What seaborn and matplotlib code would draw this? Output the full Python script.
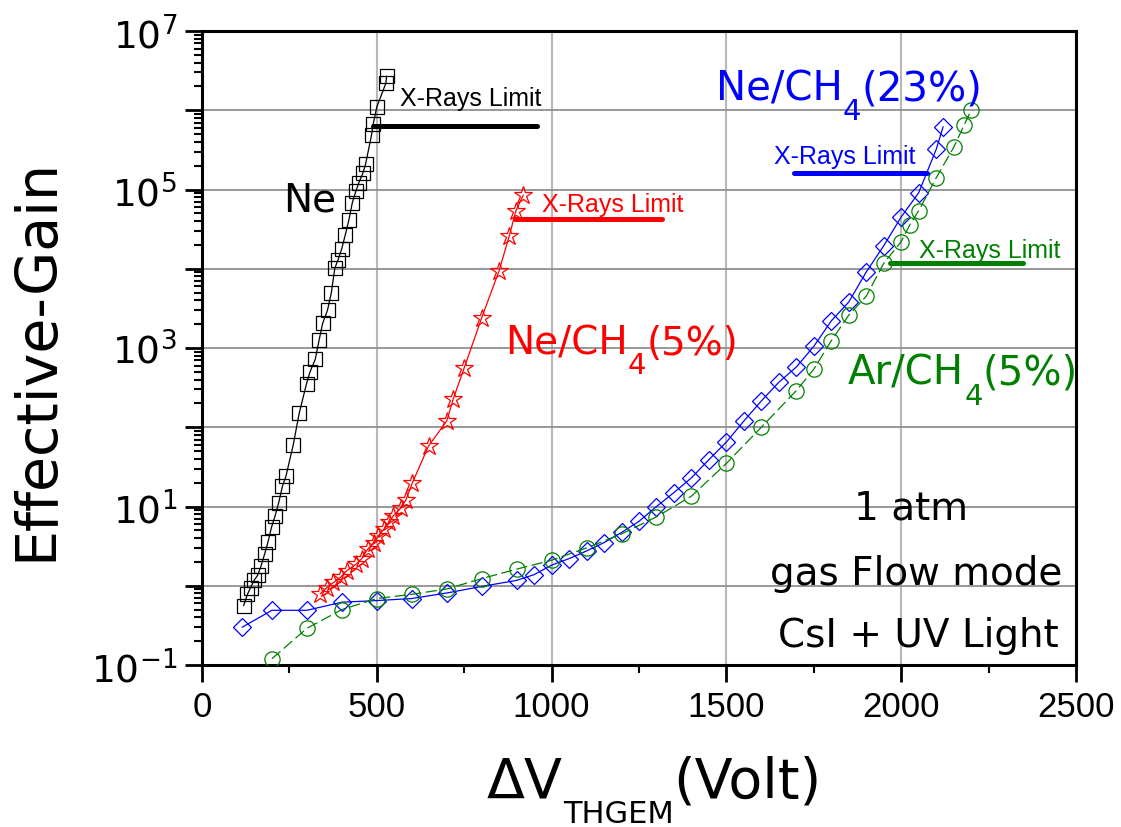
import numpy as np
import pandas as pd
import matplotlib
matplotlib.use("Agg")
import matplotlib.pyplot as plt
import seaborn as sns
from matplotlib.ticker import MultipleLocator, LogLocator, FuncFormatter, NullFormatter

# ---------------- data ----------------
ne_volt = [119, 130, 139, 149, 159, 169, 179, 189, 199, 209, 219, 230, 240, 261, 278, 299,
           309, 324, 335, 345, 359, 370, 380, 389, 400, 410, 420, 430, 440, 448, 460, 468,
           485, 490, 500, 526, 528]
ne_gain = [0.56, 0.78, 0.95, 1.17, 1.35, 1.78, 2.5, 3.6, 5.5, 7.6, 11, 18, 24, 60, 150, 355,
           500, 720, 1260, 2040, 3000, 5000, 1.02e4, 1.29e4, 1.8e4, 2.7e4, 4.1e4, 6.8e4, 9.5e4,
           1.2e5, 1.6e5, 2.1e5, 4.9e5, 6.8e5, 1.1e6, 2.2e6, 2.7e6]

nech4_5_volt = [338, 357, 376, 397, 414, 440, 457, 474, 493, 503, 521, 536, 547, 568, 583,
                602, 648, 700, 719, 750, 800, 850, 879, 898, 919]
nech4_5_gain = [0.79, 0.95, 1.1, 1.29, 1.55, 1.86, 2.2, 2.9, 3.5, 4.2, 5.2, 6.3, 7.6, 9.5, 12,
                20, 58, 120, 230, 560, 2400, 9500, 2.6e4, 5.4e4, 8.5e4]

nech4_23_volt = [115, 200, 300, 400, 500, 600, 700, 800, 900, 950, 1000, 1050, 1100, 1150,
                 1200, 1250, 1300, 1350, 1400, 1450, 1500, 1550, 1600, 1650, 1700, 1750,
                 1800, 1850, 1900, 1950, 2000, 2050, 2100, 2120]
nech4_23_gain = [0.30, 0.49, 0.49, 0.62, 0.65, 0.69, 0.81, 0.98, 1.17, 1.38, 1.82, 2.2, 2.75,
                 3.5, 4.7, 6.5, 10, 15, 23, 39, 65, 120, 215, 370, 575, 1050, 2200, 3800,
                 9100, 1.95e4, 4.5e4, 9.1e4, 3.2e5, 6.2e5]

arch4_5_volt = [200, 300, 400, 500, 600, 700, 800, 900, 1000, 1100, 1200, 1300, 1400, 1500,
                1600, 1700, 1750, 1800, 1850, 1900, 1950, 2000, 2025, 2050, 2100, 2150,
                2180, 2200]
arch4_5_gain = [0.12, 0.29, 0.50, 0.69, 0.78, 0.91, 1.23, 1.62, 2.1, 3.0, 4.5, 7.4, 13.5, 35,
                100, 290, 540, 1230, 2600, 4500, 1.17e4, 2.2e4, 3.6e4, 5.4e4, 1.4e5, 3.4e5,
                6.5e5, 1.0e6]

# X-Rays limit reference lines: gain level and voltage extent
xray_gain = [6.3e5, 4.2e4, 1.6e5, 1.17e4]
xray_v_start = [490, 895, 1692, 1968]
xray_v_end = [958, 1315, 2073, 2347]
xray_colors = ["black", "#ff0000", "#0000ff", "#008000"]

x_ticks = [0, 500, 1000, 1500, 2000, 2500]

# ---------------- style ----------------
sns.set_theme(style="ticks")
plt.rcParams["font.family"] = ["DejaVu Sans"]
plt.rcParams["mathtext.fontset"] = "custom"
plt.rcParams["mathtext.rm"] = "Liberation Sans"
plt.rcParams["mathtext.it"] = "Liberation Sans:italic"
plt.rcParams["mathtext.bf"] = "Liberation Sans:bold"
for k in ["text.color", "axes.labelcolor", "xtick.color", "ytick.color", "axes.edgecolor"]:
    plt.rcParams[k] = "black"

W, H = 1121, 828
fig = plt.figure(figsize=(W / 100, H / 100), dpi=100)
fig.patch.set_facecolor("white")
L, R, T, B = 202, 1076, 32, 666
ax = fig.add_axes([L / W, 1 - B / H, (R - L) / W, (B - T) / H])
ax.set_facecolor("white")
ax.set_yscale("log")

series = [
    (ne_volt, ne_gain, "black", "s", 9.5, None),
    (nech4_5_volt, nech4_5_gain, "#ff0000", "*", 13.5, None),
    (nech4_23_volt, nech4_23_gain, "#0000ff", "D", 9.5, None),
    (arch4_5_volt, arch4_5_gain, "#008000", "o", 11, (9, 3.5)),
]
for v, g, c, m, ms, dash in series:
    df = pd.DataFrame({"volt": v, "gain": g})
    sns.lineplot(data=df, x="volt", y="gain", ax=ax, color=c, marker=m, markersize=ms,
                 markerfacecolor="none", markeredgecolor=c, markeredgewidth=0.9,
                 linewidth=0.9, sort=False, estimator=None, zorder=3)
    if dash is not None:
        ax.lines[-1].set_dashes(dash)

for gval, x0, x1, c in zip(xray_gain, xray_v_start, xray_v_end, xray_colors):
    ax.plot([x0, x1], [gval, gval], color=c, lw=3.6, solid_capstyle="round", zorder=4)

# ---------------- axes ----------------
ax.set_xlim(0, 2500)
ax.set_ylim(1e-1, 1e7)
ax.xaxis.set_major_locator(plt.FixedLocator(x_ticks))
ax.xaxis.set_minor_locator(MultipleLocator(250))
ax.yaxis.set_major_locator(LogLocator(base=10, subs=(1.0,), numticks=20))
ax.yaxis.set_minor_locator(LogLocator(base=10, subs=np.arange(2, 10), numticks=20))
ax.yaxis.set_minor_formatter(NullFormatter())


def yfmt(val, pos):
    e = int(round(np.log10(val)))
    if e % 2 != 0:
        return r"$\mathregular{10^{%d}}$" % e
    return ""


ax.yaxis.set_major_formatter(FuncFormatter(yfmt))
ax.tick_params(axis="both", which="major", direction="out", length=12, width=2,
               color="black", labelcolor="black", pad=6)
ax.tick_params(axis="both", which="minor", direction="out", length=6, width=1.5,
               color="black")
ax.tick_params(axis="x", which="major", labelsize=25, labelfontfamily="Liberation Sans")
ax.tick_params(axis="y", which="major", labelsize=27)

ax.grid(True, which="major", axis="x", color="#b8b8b8", lw=1.5)
ax.grid(True, which="major", axis="y", color="#909090", lw=1.3)
ax.set_axisbelow(True)
for s in ax.spines.values():
    s.set_color("black")
    s.set_linewidth(2.2)
    s.set_visible(True)

ax.set_xlabel("")
ax.set_ylabel("Effective-Gain", fontsize=41, color="black")
ax.yaxis.set_label_coords(-0.158, 0.483)


def px(x, y):
    return ((x - L) / (R - L), (B - y) / (B - T))


def sub_label(x, y, main, sub, tail, color, size=28, subsize=21, subfrac=0.28):
    t1 = ax.text(*px(x, y), main, transform=ax.transAxes, color=color, fontsize=size,
                 ha="left", va="baseline", clip_on=False)
    t2 = ax.annotate(sub, xy=(1, subfrac), xycoords=t1, color=color, fontsize=subsize,
                     ha="left", va="top")
    ax.annotate(tail, xy=(1, 0), xycoords=(t2, t1), color=color, fontsize=size,
                ha="left", va="bottom")


ax.text(*px(283, 212), "Ne", transform=ax.transAxes, fontsize=28, color="black",
        ha="left", va="baseline")
sub_label(505, 355, "Ne/CH", "4", "(5%)", "#ff0000")
sub_label(716, 100, "Ne/CH", "4", "(23%)", "#0000ff", size=29)
sub_label(848, 385, "Ar/CH", "4", "(5%)", "#008000", size=29)

for x, y, s in [(911, 520, "1 atm"), (916, 585, "gas Flow mode"), (918, 647, "CsI + UV Light")]:
    ax.text(*px(x, y), s, transform=ax.transAxes, fontsize=28, color="black",
            ha="center", va="baseline")

for (x, y), c in zip([(400, 106), (542, 212), (774, 164), (919, 258)], xray_colors):
    ax.text(*px(x, y), "X-Rays Limit", transform=ax.transAxes, fontsize=18, color=c,
            ha="left", va="baseline", family="Liberation Sans")

# x axis label: ΔV_THGEM(Volt)
xl1 = fig.text(487 / W, 1 - 798 / H, "ΔV", fontsize=40, color="black", ha="left",
               va="baseline")
xl2 = ax.annotate("THGEM", xy=(1, 0.18), xycoords=xl1, fontsize=22, color="black",
                  ha="left", va="top")
ax.annotate("(Volt)", xy=(1, 0), xycoords=(xl2, xl1), fontsize=40, color="black",
            ha="left", va="bottom")

fig.savefig("out.png", dpi=100)
